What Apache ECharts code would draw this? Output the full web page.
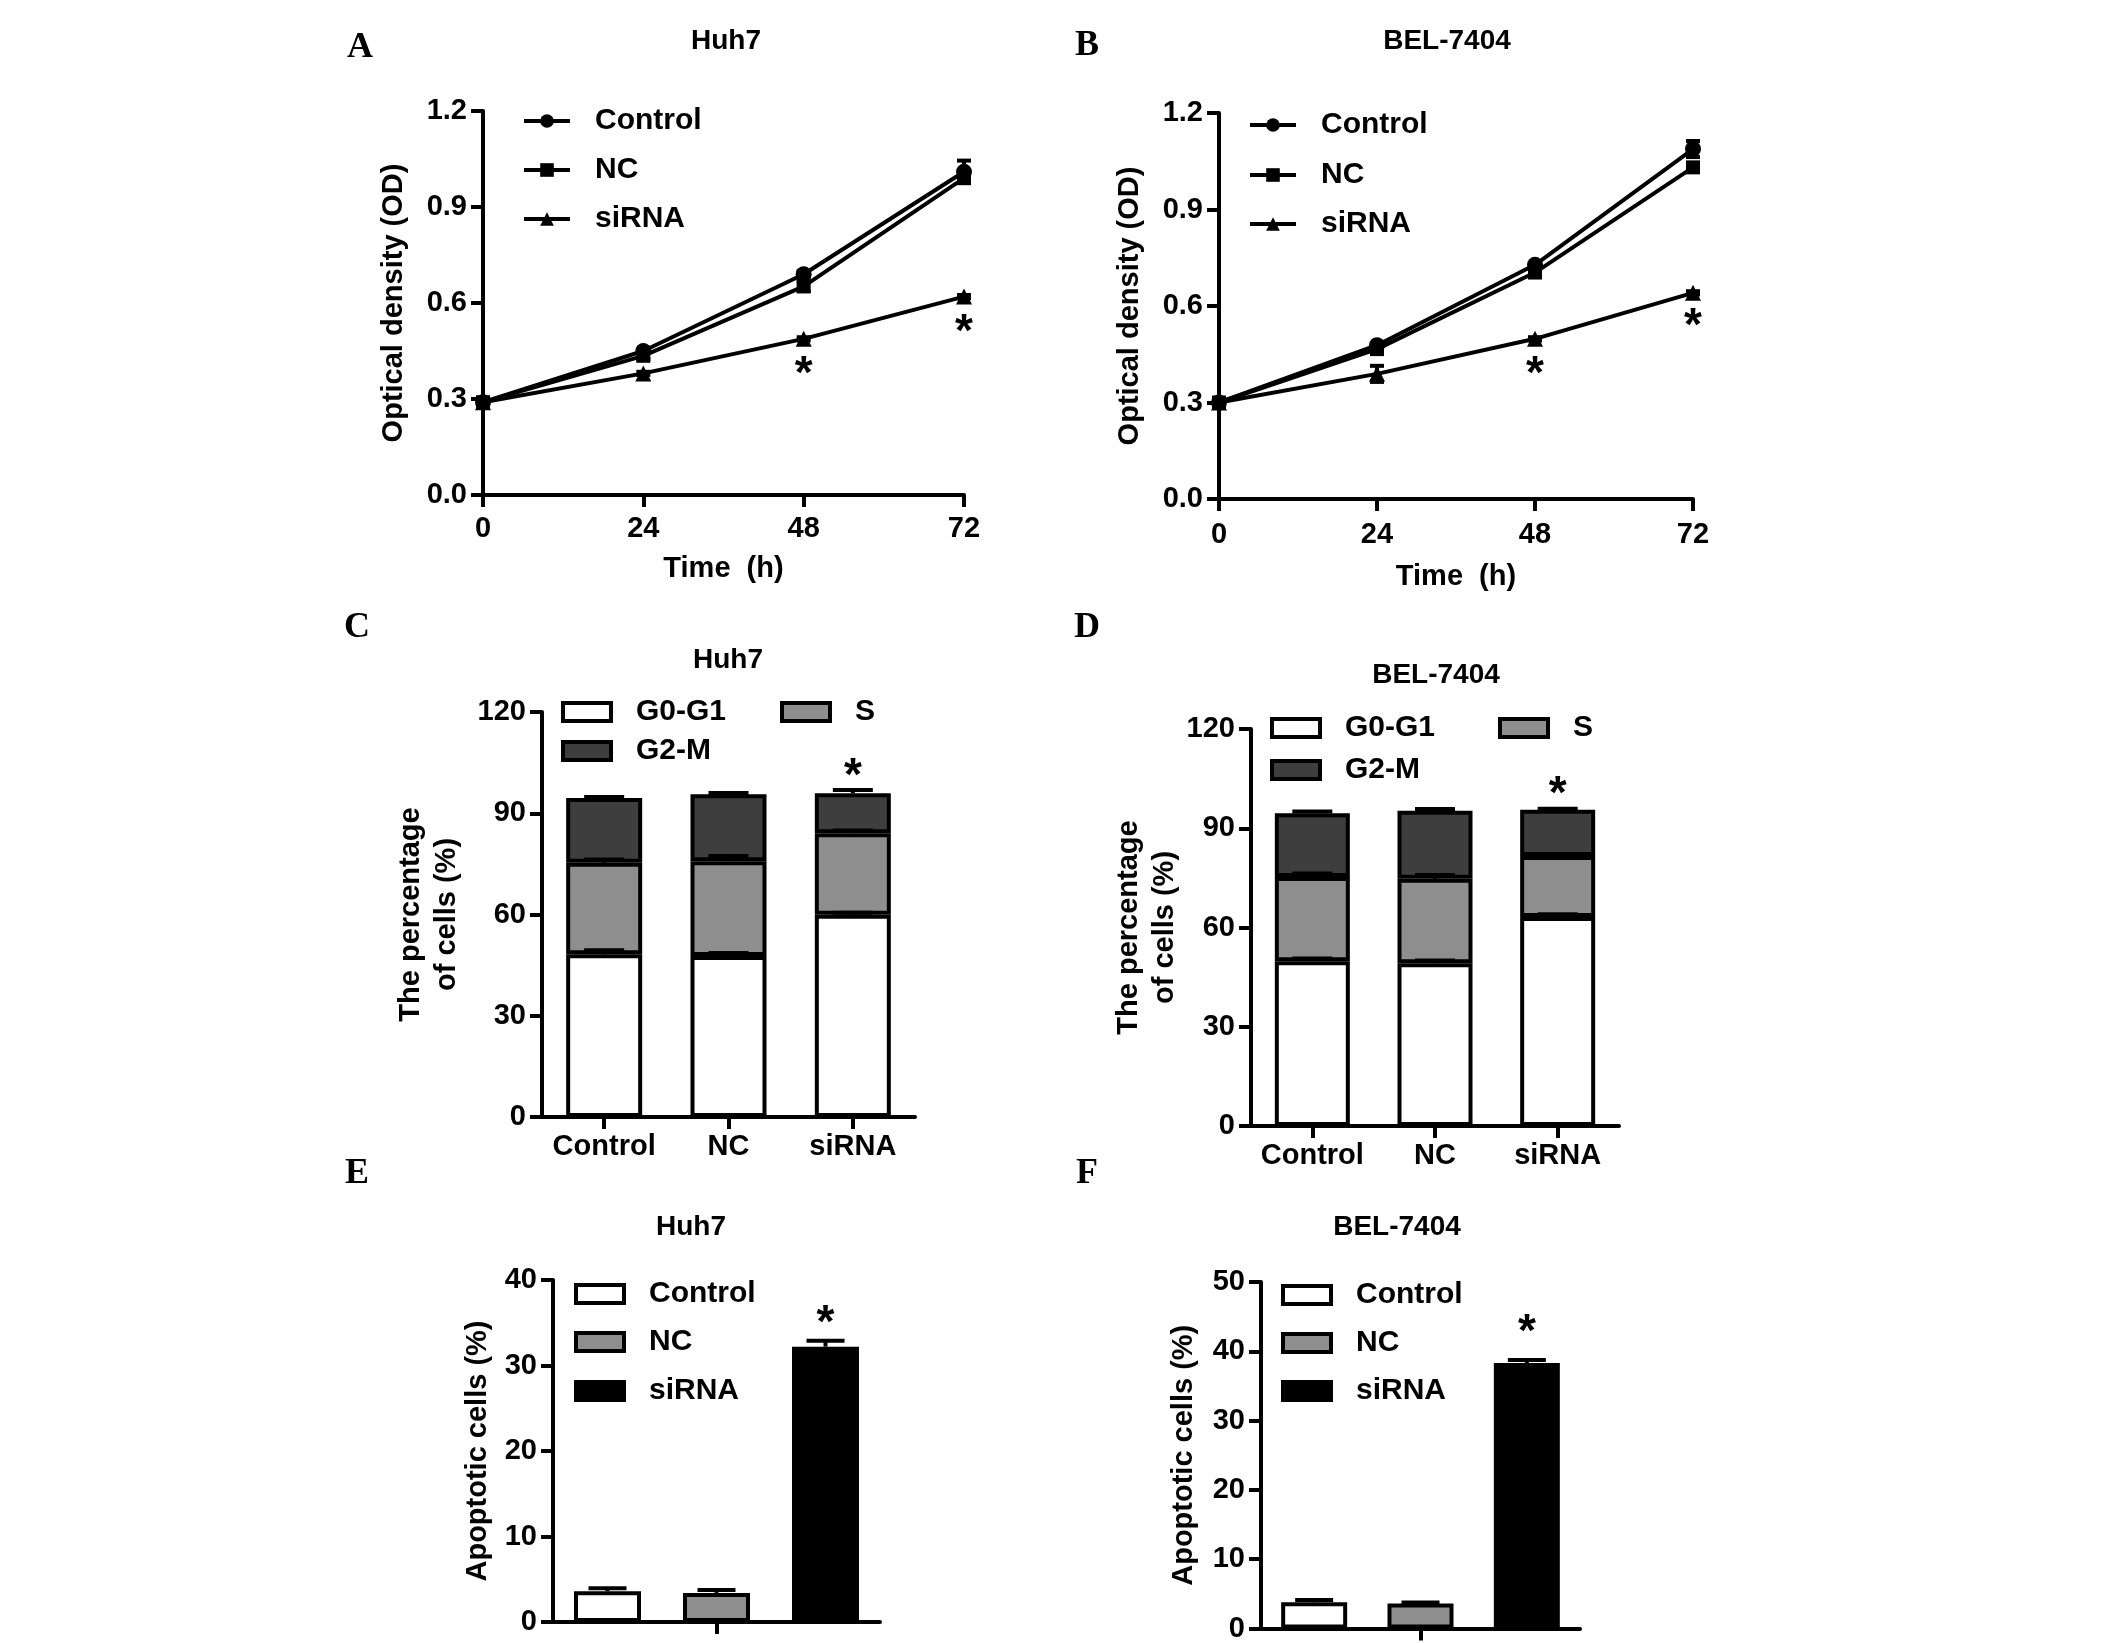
<!DOCTYPE html>
<html><head><meta charset="utf-8">
<script src="https://cdn.jsdelivr.net/npm/echarts@6/dist/echarts.min.js"></script>
<style>html,body{margin:0;padding:0;background:#fff}#c{width:2126px;height:1643px}</style>
</head><body><div id="c"></div>
<script>
// ---------------- DATA ----------------
const timePoints = [0, 24, 48, 72];
// Panel A: Huh7 proliferation (OD)
const huh7Control = [0.29, 0.45, 0.69, 1.01];
const huh7ControlErr = [0.004, 0.005, 0.01, 0.035];
const huh7NC = [0.29, 0.435, 0.652, 0.99];
const huh7NCErr = [0.004, 0.01, 0.015, 0.015];
const huh7siRNA = [0.29, 0.38, 0.488, 0.62];
const huh7siRNAErr = [0.004, 0.005, 0.005, 0.005];
const huh7Stars = [[48, 0.40], [72, 0.53]];
// Panel B: BEL-7404 proliferation (OD)
const belControl = [0.30, 0.478, 0.728, 1.088];
const belControlErr = [0.004, 0.005, 0.005, 0.025];
const belNC = [0.30, 0.466, 0.704, 1.031];
const belNCErr = [0.004, 0.005, 0.005, 0.005];
const belsiRNA = [0.30, 0.389, 0.498, 0.641];
const belsiRNAErr = [0.004, 0.025, 0.005, 0.005];
const belStars = [[48, 0.41], [72, 0.56]];
// Panels C, D: cell cycle (%)
const groups = ['Control', 'NC', 'siRNA'];
const phases = ['G0-G1', 'S', 'G2-M'];
const huh7G0G1 = [48.2, 47.7, 59.9];
const huh7S = [27.1, 28.1, 24.2];
const huh7G2M = [19.2, 19.8, 11.8];
const huh7G0G1Err = [1.2, 0.9, 0.6];
const huh7SErr = [1.0, 1.5, 0.8];
const huh7G2MErr = [0.3, 0.4, 1.0];
const huh7CycleStar = [[2, 103]];
const belG0G1 = [49.8, 49.2, 63.2];
const belS = [25.5, 25.5, 18.4];
const belG2M = [19.2, 20.6, 14.0];
const belG0G1Err = [0.8, 0.8, 0.8];
const belSErr = [1.0, 1.2, 0.6];
const belG2MErr = [0.6, 0.5, 0.3];
const belCycleStar = [[2, 102.3]];
// Panels E, F: apoptosis (%)
const huh7Apop = [3.6, 3.4, 32.2];
const huh7ApopErr = [0.35, 0.35, 0.7];
const huh7ApopStar = [[2, 35.7]];
const belApop = [3.8, 3.6, 38.3];
const belApopErr = [0.3, 0.15, 0.45];
const belApopStar = [[2, 43.8]];
// ---------------- STYLE ----------------
const FF = 'Liberation Sans, Arial, sans-serif';
const FS = 29;
const txt = {color:'#000', fontFamily:FF, fontWeight:'bold', fontSize:FS};
const chart = echarts.init(document.getElementById('c'));

const grids = [
  {left:483, top:111, width:481, height:384},
  {left:1219, top:113, width:474, height:386},
  {left:542, top:712, width:373, height:405},
  {left:1251, top:729, width:368, height:397},
  {left:553, top:1280, width:327, height:342},
  {left:1261, top:1282, width:319, height:348}
];
const axisLine = {show:true, onZero:false, lineStyle:{color:'#000', width:4}};
const axisTick = {show:true, inside:false, length:12, lineStyle:{color:'#000', width:4}};

function yAxis(gi, max, interval, dec, name, gap) {
  return {type:'value', gridIndex:gi, min:0, max:max, interval:interval,
    axisLine:axisLine, axisTick:axisTick, splitLine:{show:false},
    axisLabel:Object.assign({margin:16, formatter:v=>v.toFixed(dec)}, txt),
    name:name, nameLocation:'middle', nameGap:gap,
    nameTextStyle:Object.assign({lineHeight:36, align:'center'}, txt)};
}
const xAxes = [
  {type:'value', gridIndex:0, min:0, max:72, interval:24, axisLine:axisLine,
   axisTick:axisTick, splitLine:{show:false}, axisLabel:Object.assign({margin:19}, txt),
   name:'Time  (h)', nameLocation:'middle', nameGap:59, nameTextStyle:txt},
  {type:'category', gridIndex:2, data:groups, axisLine:axisLine,
   axisTick:Object.assign({alignWithLabel:true}, axisTick), axisLabel:Object.assign({margin:15, interval:0}, txt)},
  {type:'category', gridIndex:4, data:groups, axisLine:axisLine,
   axisTick:Object.assign({alignWithLabel:true, interval:(i)=>i===1}, axisTick), axisLabel:{show:false}}
];
// insert B, D, F axes in grid order
xAxes.splice(1, 0, {type:'value', gridIndex:1, min:0, max:72, interval:24, axisLine:axisLine,
   axisTick:axisTick, splitLine:{show:false}, axisLabel:Object.assign({margin:21}, txt),
   name:'Time  (h)', nameLocation:'middle', nameGap:63, nameTextStyle:txt});
xAxes.splice(3, 0, {type:'category', gridIndex:3, data:groups, axisLine:axisLine,
   axisTick:Object.assign({alignWithLabel:true}, axisTick), axisLabel:Object.assign({margin:15, interval:0}, txt)});
xAxes.push({type:'category', gridIndex:5, data:groups, axisLine:axisLine,
   axisTick:Object.assign({alignWithLabel:true, interval:(i)=>i===1}, axisTick), axisLabel:{show:false}});

const yAxes = [
  yAxis(0, 1.2, 0.3, 1, 'Optical density (OD)', 71),
  yAxis(1, 1.2, 0.3, 1, 'Optical density (OD)', 71),
  yAxis(2, 120, 30, 0, 'The percentage\nof cells (%)', 77),
  yAxis(3, 120, 30, 0, 'The percentage\nof cells (%)', 65),
  yAxis(4, 40, 10, 0, 'Apoptotic cells (%)', 57),
  yAxis(5, 50, 10, 0, 'Apoptotic cells (%)', 59)
];

const series = [];
function errBars(gi, pts, capHalf, both) {
  return {type:'custom', xAxisIndex:gi, yAxisIndex:gi, data:pts, silent:true, z:1,
    renderItem:(p, api) => {
      const x = api.value(0), y = api.value(1), e = api.value(2);
      const t = api.coord([x, y + e]);
      const b = api.coord([x, both ? y - e : y]);
      const st = {stroke:'#000', lineWidth:4};
      const ch = [
        {type:'line', shape:{x1:t[0], y1:t[1], x2:b[0], y2:b[1]}, style:st},
        {type:'line', shape:{x1:t[0]-capHalf, y1:t[1], x2:t[0]+capHalf, y2:t[1]}, style:st}
      ];
      if (both) ch.push({type:'line', shape:{x1:b[0]-capHalf, y1:b[1], x2:b[0]+capHalf, y2:b[1]}, style:st});
      return {type:'group', children:ch};
    }};
}
function stars(gi, pts) {
  return {type:'custom', xAxisIndex:gi, yAxisIndex:gi, data:pts, silent:true, z:5,
    renderItem:(p, api) => {
      const c = api.coord([api.value(0), api.value(1)]);
      return {type:'text', x:c[0], y:c[1] + 8, style:{text:'*', fill:'#000', fontSize:46,
        fontWeight:'bold', fontFamily:FF, align:'center', verticalAlign:'middle'}};
    }};
}
const lineSets = [
  [0, 'A', [['Control', huh7Control, huh7ControlErr, 'circle', 16], ['NC', huh7NC, huh7NCErr, 'rect', 14], ['siRNA', huh7siRNA, huh7siRNAErr, 'triangle', 16]], huh7Stars],
  [1, 'B', [['Control', belControl, belControlErr, 'circle', 16], ['NC', belNC, belNCErr, 'rect', 14], ['siRNA', belsiRNA, belsiRNAErr, 'triangle', 16]], belStars]
];
lineSets.forEach(([gi, tag, sets, st]) => {
  sets.forEach(([nm, vals, errs, sym, size]) => {
    series.push(errBars(gi, timePoints.map((t, i) => [t, vals[i], errs[i]]), 7, true));
    series.push({type:'line', name:nm + '|' + tag, xAxisIndex:gi, yAxisIndex:gi,
      data:timePoints.map((t, i) => [t, vals[i]]), symbol:sym, symbolSize:size, z:3,
      lineStyle:{color:'#000', width:4}, itemStyle:{color:'#000'}, animation:false});
  });
  series.push(stars(gi, st));
});
const phaseColors = ['#ffffff', '#8e8e8e', '#3e3e3e'];
const cycleSets = [
  [2, 'C', [huh7G0G1, huh7S, huh7G2M], [huh7G0G1Err, huh7SErr, huh7G2MErr], huh7CycleStar, 76],
  [3, 'D', [belG0G1, belS, belG2M], [belG0G1Err, belSErr, belG2MErr], belCycleStar, 75]
];
cycleSets.forEach(([gi, tag, segs, errs, st, bw]) => {
  const cum = [0, 0, 0];
  segs.forEach((vals, k) => {
    series.push({type:'bar', name:phases[k] + '|' + tag, xAxisIndex:gi, yAxisIndex:gi,
      stack:'cyc' + tag, data:vals, barWidth:bw, z:2, animation:false,
      itemStyle:{color:phaseColors[k], borderColor:'#000', borderWidth:4}});
    const tops = vals.map((v, i) => { cum[i] += v; return [i, cum[i], errs[k][i]]; });
    series.push(Object.assign(errBars(gi, tops, 20, false), {z:3}));
  });
  series.push(stars(gi, st));
});
const groupColors = ['#ffffff', '#8e8e8e', '#000000'];
const apopSets = [
  [4, 'E', huh7Apop, huh7ApopErr, huh7ApopStar, 67],
  [5, 'F', belApop, belApopErr, belApopStar, 66]
];
apopSets.forEach(([gi, tag, vals, errs, st, bw]) => {
  groups.forEach((g, k) => {
    series.push({type:'bar', name:g + '|' + tag, xAxisIndex:gi, yAxisIndex:gi,
      data:vals.map((v, i) => i === k ? v : '-'), barWidth:bw, barGap:'-100%', z:2, animation:false,
      itemStyle:{color:groupColors[k], borderColor:'#000', borderWidth:4}});
  });
  series.push(errBars(gi, vals.map((v, i) => [i, v, errs[i]]), 19, false));
  series.push(stars(gi, st));
});

function leg(name, left, cy, isLine) {
  const o = {data:[name], left:left, top:cy - 15, orient:'horizontal', padding:0,
    itemWidth: isLine ? 46 : 48, itemHeight: isLine ? 17 : 18, selectedMode:false,
    formatter:n => n.split('|')[0],
    textStyle:Object.assign({padding:[0, 0, 0, 20]}, txt, {fontSize:30}),
    itemStyle:{borderColor:'#000', borderWidth: isLine ? 0 : 4},
    lineStyle:{color:'#000', width:4}};
  if (!isLine) o.icon = 'rect';
  return o;
}
const legends = [
  leg('Control|A', 522, 121, true), leg('NC|A', 522, 170, true), leg('siRNA|A', 522, 219, true),
  leg('Control|B', 1248, 125, true), leg('NC|B', 1248, 175, true), leg('siRNA|B', 1248, 224, true),
  leg('G0-G1|C', 561, 712), leg('S|C', 780, 712), leg('G2-M|C', 561, 751),
  leg('G0-G1|D', 1270, 728), leg('S|D', 1498, 728), leg('G2-M|D', 1270, 770),
  leg('Control|E', 574, 1294), leg('NC|E', 574, 1342), leg('siRNA|E', 574, 1391),
  leg('Control|F', 1281, 1295), leg('NC|F', 1281, 1343), leg('siRNA|F', 1281, 1391)
];
function ttl(text, cx, cy, serif) {
  return {text:text, left:cx, top:cy - (serif ? 18 : 14), textAlign:'center', padding:0,
    textStyle: serif ? {color:'#000', fontFamily:'Liberation Serif, Times New Roman, serif', fontWeight:'bold', fontSize:36}
                     : {color:'#000', fontFamily:FF, fontWeight:'bold', fontSize:28}};
}
const titles = [
  ttl('A', 360, 48, true), ttl('B', 1087, 46, true), ttl('C', 357, 628, true),
  ttl('D', 1087, 628, true), ttl('E', 357, 1174, true), ttl('F', 1087, 1174, true),
  ttl('Huh7', 726, 41), ttl('BEL-7404', 1447, 41), ttl('Huh7', 728, 660),
  ttl('BEL-7404', 1436, 675), ttl('Huh7', 691, 1227), ttl('BEL-7404', 1397, 1227)
];

chart.setOption({
  animation:false, backgroundColor:'#fff',
  title:titles, legend:legends, grid:grids, xAxis:xAxes, yAxis:yAxes, series:series
});
</script></body></html>
